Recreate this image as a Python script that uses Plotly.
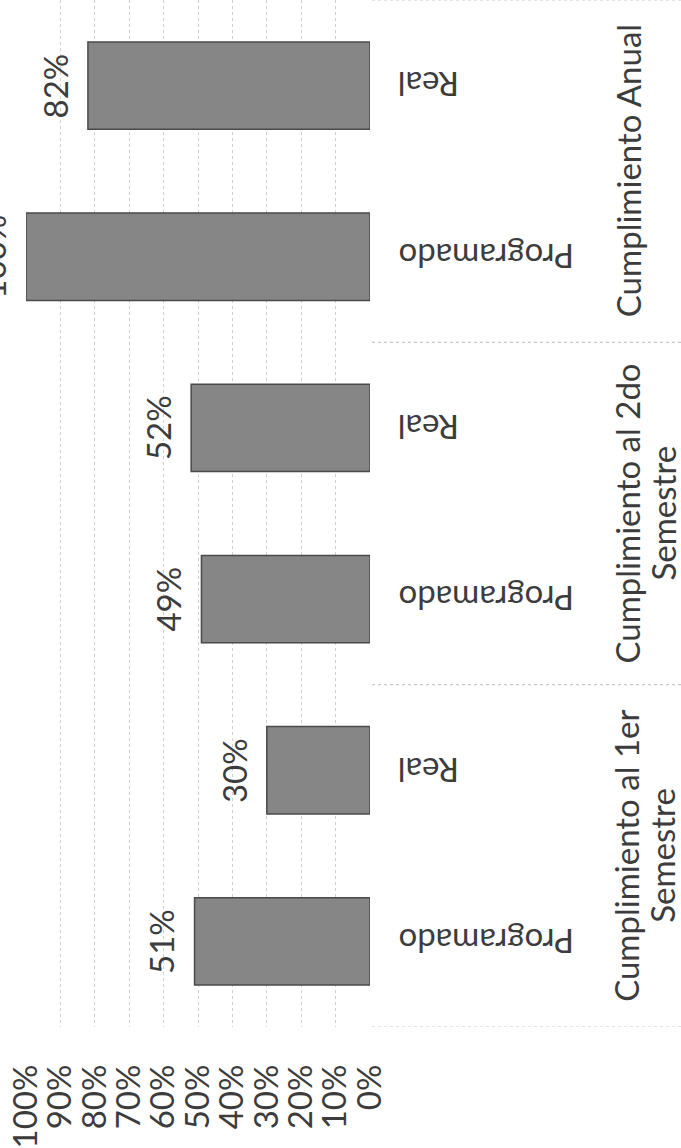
import plotly.graph_objects as go

# ---------------- data ----------------
groups = ["Cumplimiento al 1er Semestre", "Cumplimiento al 2do Semestre", "Cumplimiento Anual"]
group_lines = [["Cumplimiento al 1er", "Semestre"], ["Cumplimiento al 2do", "Semestre"], ["Cumplimiento Anual"]]
series = ["Programado", "Real"]
programado = [0.51, 0.49, 1.00]
real = [0.30, 0.52, 0.82]
tick_vals = [0, 0.1, 0.2, 0.3, 0.4, 0.5, 0.6, 0.7, 0.8, 0.9, 1.0]
tick_text = ["0%", "10%", "20%", "30%", "40%", "50%", "60%", "70%", "80%", "90%", "100%"]

# ---------------- layout constants ----------------
W, H = 681, 1148
PL, PR = 26, 370          # plot area left/right in px
PT, PB = 0, 1029          # plot area top/bottom in px
FONT = "Lato"
TXT = "#3c3c3c"
FS = 33

def px2paper(px):
    return (px - PL) / (PR - PL)

# category keys, bottom-to-top
cats = []
for g in groups:
    for s in series:
        cats.append(g + "|" + s)

fig = go.Figure()
vals = {"Programado": programado, "Real": real}
for s in series:
    fig.add_trace(go.Bar(
        orientation="h",
        y=[g + "|" + s for g in groups],
        x=vals[s],
        width=0.51,
        marker=dict(color="#868686", line=dict(color="#4a4a4a", width=1.5)),
        name=s,
        showlegend=False,
        hoverinfo="skip",
    ))

annotations = []
# data labels
for s in series:
    for g, v in zip(groups, vals[s]):
        annotations.append(dict(
            x=v, xref="x", y=g + "|" + s, yref="y",
            text=f"{round(v*100)}%", textangle=-90, showarrow=False,
            xanchor="center", yanchor="middle", xshift=-33,
            font=dict(family=FONT, size=FS, color=TXT),
        ))
# sub-category labels (upside-down)
for g in groups:
    for s in series:
        annotations.append(dict(
            x=px2paper(396), xref="paper", y=g + "|" + s, yref="y",
            text=s, textangle=180, showarrow=False,
            xanchor="left", yanchor="middle",
            font=dict(family=FONT, size=FS, color=TXT),
        ))
# group labels
line_px = [626, 662]
for gi, lines in enumerate(group_lines):
    for li, t in enumerate(lines):
        xp = line_px[li] if len(lines) > 1 else 628
        annotations.append(dict(
            x=px2paper(xp), xref="paper", y=2 * gi + 0.5, yref="y",
            text=t, textangle=-90, showarrow=False,
            xanchor="center", yanchor="middle",
            font=dict(family=FONT, size=FS, color=TXT),
        ))

# group separator lines on the category side
shapes = []
for b in [-0.5, 1.5, 3.5, 5.5]:
    shapes.append(dict(
        type="line", xref="paper", yref="y",
        x0=px2paper(372), x1=px2paper(W), y0=b, y1=b,
        line=dict(color="#c8c8c8", width=1.2, dash="dot"),
    ))

fig.update_layout(
    width=W, height=H,
    margin=dict(l=PL, r=W - PR, t=PT, b=H - PB),
    paper_bgcolor="white", plot_bgcolor="white",
    barmode="overlay",
    annotations=annotations,
    shapes=shapes,
    font=dict(family=FONT, size=FS, color=TXT),
    xaxis=dict(
        range=[1.0, 0], tickvals=tick_vals, ticktext=tick_text,
        tickangle=-90, showgrid=True, gridcolor="#cfcfcf", griddash="dot",
        gridwidth=1.2, zeroline=False, showline=False, ticks="",
        ticklabelstandoff=30,
        tickfont=dict(family=FONT, size=FS, color=TXT),
    ),
    yaxis=dict(
        type="category", categoryorder="array", categoryarray=cats,
        range=[-0.5, 5.5], showticklabels=False, showgrid=False,
        zeroline=False, showline=False, ticks="",
    ),
)

fig.write_html("out.html", config={"displayModeBar": False},
               post_script="document.body.style.margin='0';")
